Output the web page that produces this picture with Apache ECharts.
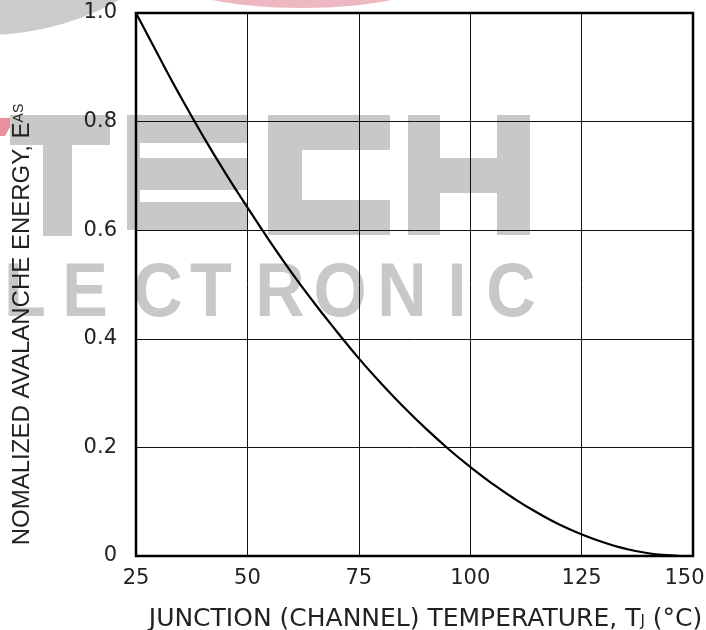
<!DOCTYPE html>
<html><head><meta charset="utf-8">
<script src="https://cdn.jsdelivr.net/npm/echarts@6/dist/echarts.min.js"></script>
<style>html,body{margin:0;padding:0;background:#fff}#c{width:706px;height:630px}</style>
</head><body><div id="c"></div>
<script>
// Junction temperature (°C)
const temps = [25,30,35,40,45,50,55,60,65,70,75,80,85,90,95,100,105,110,115,120,125,130,135,140,145,147];
// Normalized avalanche energy E_AS
const energy = [1.0,0.922,0.846,0.774,0.706,0.642,0.580,0.521,0.466,0.414,0.364,0.318,0.275,0.235,0.198,0.164,0.133,0.105,0.080,0.058,0.040,0.025,0.013,0.005,0.001,0];
const xTickLabels = ['25','50','75','100','125','150'];
const yTickLabels = ['0','0.2','0.4','0.6','0.8','1.0'];
const wmLetters = ['L','E','C','T','R','O','N','I','C'];
const wmLetterX = [25,85,158,211,280,340,402,457,511];

const FONT = 'Liberation Sans, Arial, sans-serif';
const TICKFONT = 'DejaVu Sans, Liberation Sans, sans-serif';
const WM = '#c8c8c8';

const wmRects = [
  [10,115,100,30],[43,115,29,121],
  [127,115,13,115],[127,115,120,28],[127,158,120,32],[127,202,120,28],
  [268,115,34,120],[268,115,122,35],[268,200,122,35],
  [408,115,32,120],[497,115,33,120],[440,158,57,35]
];
const graphics = [];
graphics.push({type:'circle', shape:{cx:-15, cy:-239, r:274}, style:{fill:'#cbcbcb'}, z:-10, silent:true});
graphics.push({type:'ellipse', shape:{cx:302, cy:-20, rx:128, ry:28}, style:{fill:'#eeb8c3'}, z:-10, silent:true});
graphics.push({type:'polygon', shape:{points:[[0,118],[15,118],[5,136],[0,136]]}, style:{fill:'#e8909c'}, z:-10, silent:true});
wmRects.forEach(r => graphics.push({type:'rect', shape:{x:r[0],y:r[1],width:r[2],height:r[3]}, style:{fill:WM}, z:-10, silent:true}));
wmLetters.forEach((ch,i) => graphics.push({type:'text', x:wmLetterX[i], y:295, scaleX:0.9, z:-10, silent:true,
  style:{text:ch, x:0, y:0, align:'center', verticalAlign:'middle', fill:WM, font:'bold 76px ' + FONT}}));

const chart = echarts.init(document.getElementById('c'), null, {renderer:'canvas'});
chart.setOption({
  animation:false,
  backgroundColor:'#fff',
  graphic: graphics,
  grid:{left:136, right:13, top:13, bottom:74, outerBoundsMode:'none', containLabel:false,
    show:true, borderColor:'#000', borderWidth:2.5, backgroundColor:'transparent', z:1},
  xAxis:{
    type:'value', min:25, max:150, interval:25,
    axisLine:{show:false}, axisTick:{show:false},
    splitLine:{show:true, lineStyle:{color:'#111', width:1}},
    axisLabel:{margin:12, fontSize:21, color:'#222', fontFamily:TICKFONT,
      formatter:(v)=>{const i=Math.round((v-25)/25); return i===xTickLabels.length-1 ? '{last|'+xTickLabels[i]+'}' : xTickLabels[i];},
      rich:{last:{fontSize:21, color:'#222', fontFamily:TICKFONT, padding:[0,17,0,0]}}},
    name:'{a|JUNCTION (CHANNEL) TEMPERATURE, T}{s|J}{a| (°C)}',
    nameLocation:'middle', nameGap:51,
    nameTextStyle:{padding:[0,0,0,22], rich:{a:{fontSize:25, color:'#222', fontFamily:TICKFONT}, s:{fontSize:15, color:'#222', fontFamily:TICKFONT, padding:[6,0,0,0]}}}
  },
  yAxis:{
    type:'value', min:0, max:1, interval:0.2,
    axisLine:{show:false}, axisTick:{show:false},
    splitLine:{show:true, lineStyle:{color:'#111', width:1}},
    axisLabel:{margin:19, fontSize:21, color:'#222', fontFamily:TICKFONT,
      formatter:(v)=>yTickLabels[Math.round(v/0.2)]},
    name:'{a|NOMALIZED AVALANCHE ENERGY, E}{s|AS}',
    nameLocation:'middle', nameGap:102, nameRotate:90,
    nameTextStyle:{padding:[0,80,0,0], rich:{a:{fontSize:24, color:'#222', fontFamily:FONT}, s:{fontSize:14, color:'#222', fontFamily:FONT, padding:[0,0,6,0]}}}
  },
  series:[{
    type:'line', data: temps.map((t,i)=>[t, energy[i]]),
    smooth:0.5, showSymbol:false, symbol:'none',
    lineStyle:{color:'#000', width:2.2}, z:3
  }]
});
</script></body></html>
